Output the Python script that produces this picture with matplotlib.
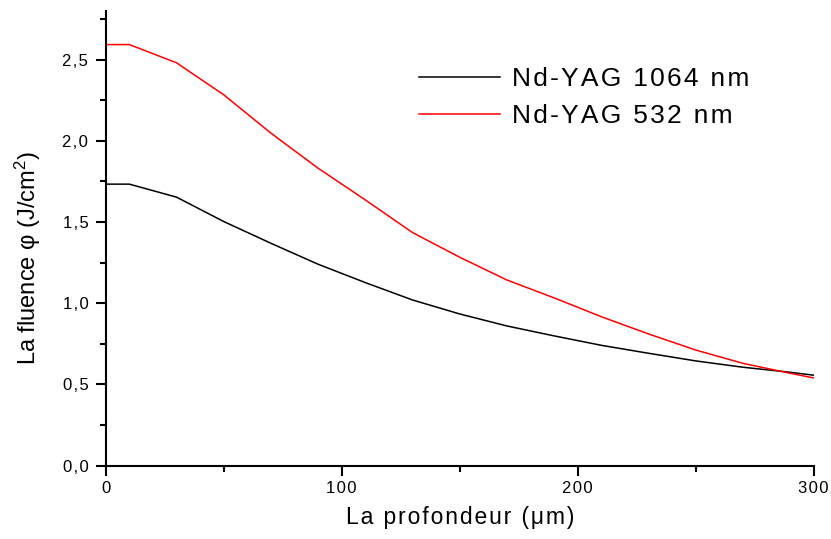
import matplotlib
matplotlib.use('Agg')
import matplotlib.pyplot as plt
from matplotlib.ticker import MultipleLocator, FuncFormatter

plt.rcParams['font.family'] = ['Liberation Sans', 'DejaVu Sans']
plt.rcParams['mathtext.fontset'] = 'custom'
plt.rcParams['mathtext.rm'] = 'Liberation Sans'
plt.rcParams['mathtext.it'] = 'Liberation Sans'

# profondeur (um)
depth = [0, 10, 30, 50, 70, 90, 110, 130, 150, 170, 190, 210, 230, 250, 270, 290, 300]
# fluence (J/cm2)
fluence_1064 = [1.733, 1.733, 1.653, 1.503, 1.369, 1.240, 1.127, 1.020, 0.934, 0.860,
                0.799, 0.741, 0.692, 0.645, 0.606, 0.575, 0.557]
fluence_532 = [2.592, 2.592, 2.480, 2.283, 2.047, 1.831, 1.636, 1.435, 1.283, 1.143,
               1.033, 0.917, 0.811, 0.712, 0.630, 0.569, 0.540]
labels = ['Nd-YAG 1064 nm', 'Nd-YAG 532 nm']


def spaced(s):
    # texte un peu plus espacé, comme dans l'original
    return '\u200a'.join(s)


fig = plt.figure(figsize=(8.31, 5.39), dpi=100)
ax = fig.add_axes([0.1272, 0.136, 0.852, 0.844])

ax.plot(depth, fluence_1064, color='black', lw=1.1, label=spaced(labels[0]))
ax.plot(depth, fluence_532, color='#ff0000', lw=1.1, label=spaced(labels[1]))

ax.set_xlim(0, 300)
ax.set_ylim(0, 2.8)
ax.xaxis.set_major_locator(MultipleLocator(100))
ax.xaxis.set_minor_locator(MultipleLocator(50))
ax.yaxis.set_major_locator(MultipleLocator(0.5))
ax.yaxis.set_minor_locator(MultipleLocator(0.25))
ax.xaxis.set_major_formatter(FuncFormatter(lambda v, p: spaced(f'{v:.0f}')))
ax.yaxis.set_major_formatter(FuncFormatter(lambda v, p: spaced(f'{v:.1f}'.replace('.', ','))))

for s in ['top', 'right']:
    ax.spines[s].set_visible(False)
for s in ['left', 'bottom']:
    ax.spines[s].set_linewidth(1.5)

ax.tick_params(which='major', direction='out', length=7.5, width=1.5, labelsize=12)
ax.tick_params(axis='x', which='major', pad=3.5)
ax.tick_params(axis='y', which='major', pad=5)
ax.tick_params(which='minor', direction='out', length=4, width=1.5)

ax.set_xlabel(spaced('La profondeur (\u03bcm)'), fontsize=16.5, labelpad=7)
ax.set_ylabel('La fluence \u03c6 (J/cm$^2$)', fontsize=17)
ax.yaxis.set_label_coords(-0.088, 0.456)

ax.legend(loc='center left', bbox_to_anchor=(0.424, 0.809), frameon=False, fontsize=19,
          borderpad=0, handlelength=3.07, handletextpad=0.45, labelspacing=0.47)

fig.savefig('out.png', dpi=100)
